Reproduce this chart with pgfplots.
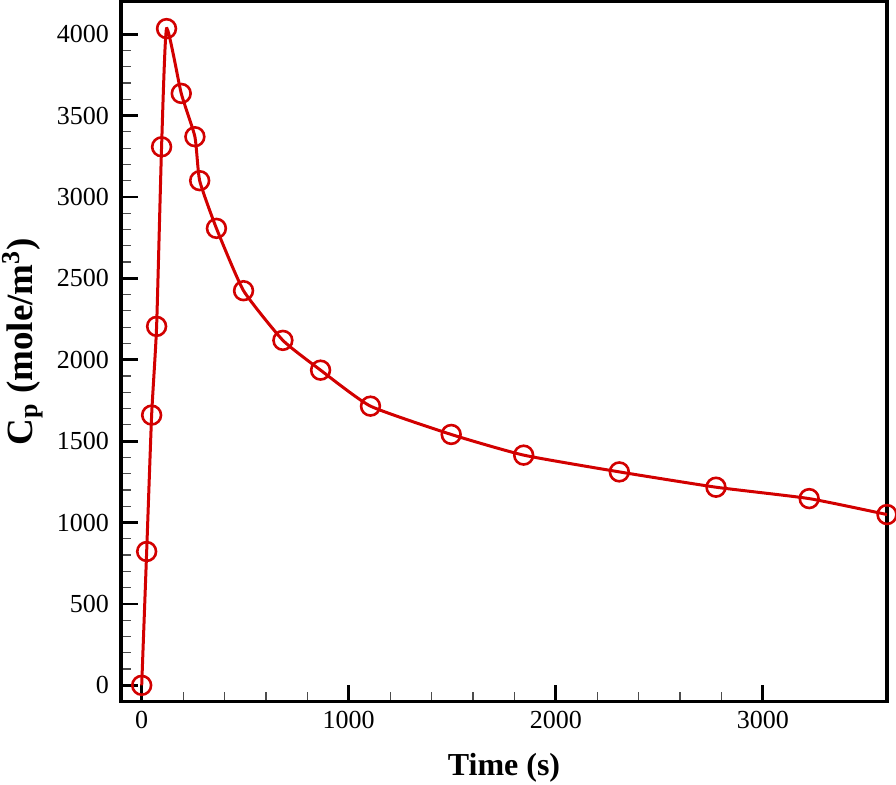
\documentclass[border=0pt]{standalone}
\usepackage{fontspec}
\setmainfont{Liberation Serif}
\usepackage{pgfplots}
\pgfplotsset{compat=1.18}
\definecolor{cpred}{RGB}{210,0,0}
\begin{document}
\begin{tikzpicture}
\begin{axis}[
  name=ax,
  scale only axis,
  width=383pt, height=350pt,
  xmin=-100, xmax=3600,
  ymin=-100, ymax=4200,
  xtick={0,1000,2000,3000},
  ytick={0,500,1000,1500,2000,2500,3000,3500,4000},
  minor x tick num=4,
  minor y tick num=4,
  tick pos=left,
  tick align=inside,
  major tick length=8.5pt,
  minor tick length=5pt,
  every major tick/.append style={line width=1.4pt, black},
  every minor tick/.append style={line width=0.6pt, black!70},
  axis line style={line width=1.6pt},
  /pgf/number format/assume math mode=true,
  /pgf/number format/1000 sep={},
  ticklabel style={font=\fontsize{13}{15}\selectfont},
  yticklabel style={xshift=-2.5pt},
  xticklabel style={yshift=-1.5pt},
  xlabel={\textbf{Time (s)}},
  ylabel={\textbf{C$_{\mathbf{p}}$ (mole/m$^{\mathbf{3}}$)}},
  x label style={font=\fontsize{16}{19}\selectfont, at={(axis description cs:0.5,0)}, anchor=center, yshift=-33pt},
  y label style={font=\fontsize{18.5}{22}\selectfont, at={(axis description cs:0,0.5)}, anchor=center, yshift=49pt, xshift=5pt},
]
\addplot[cpred, line width=1.5pt, smooth, tension=0.3,
  mark=o, mark size=4.7pt,
  mark options={fill=white, draw=cpred, line width=1.3pt, solid}]
  coordinates {
  (0,0) (24,822) (48,1660) (72,2205) (96,3308) (120,4034)
  (191,3636) (257,3370) (280,3100) (361,2807) (492,2424)
  (682,2119) (864,1936) (1105,1715) (1495,1541) (1845,1414)
  (2307,1311) (2774,1217) (3224,1147) (3600,1049)
  };
\end{axis}
\pgfresetboundingbox
\useasboundingbox ([xshift=-60.5pt,yshift=-41.5pt]ax.south west) rectangle ([xshift=4.5pt,yshift=0.8pt]ax.north east);
\end{tikzpicture}
\end{document}
